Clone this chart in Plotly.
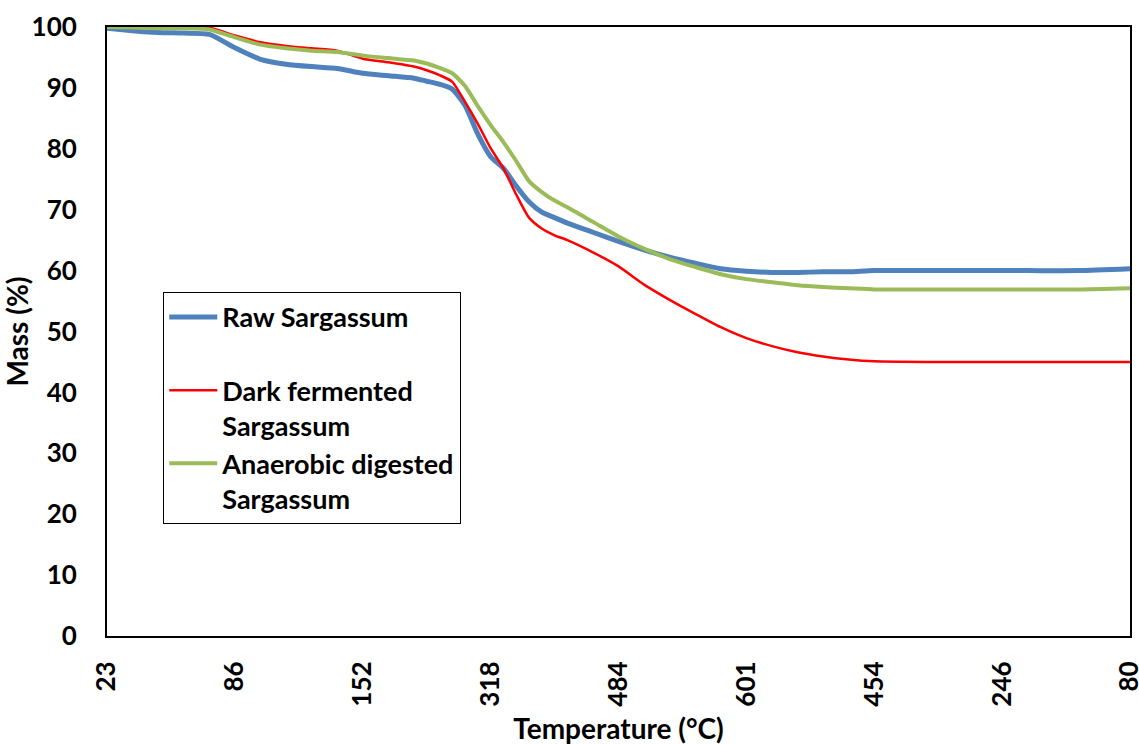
import plotly.graph_objects as go

# Sample index along the recorded run (category axis); tick labels are temperatures
sample_idx = [0, 2, 4, 6, 8, 10, 12, 14, 16, 18, 20, 22, 24, 25, 26, 27, 28, 29, 30,
              31, 32, 33, 34, 35, 36, 38, 40, 42, 44, 46, 48, 50, 52, 54, 56, 58, 60,
              64, 68, 72, 76, 80]

raw_sargassum = [99.8, 99.4, 99.1, 99.0, 98.8, 96.6, 94.7, 93.9, 93.5, 93.2, 92.4, 92.0,
                 91.6, 91.1, 90.6, 89.8, 87.1, 82.4, 78.7, 76.8, 73.9, 71.3, 69.6, 68.7,
                 67.8, 66.3, 64.8, 63.4, 62.2, 61.2, 60.3, 59.9, 59.7, 59.7, 59.8, 59.8,
                 60.0, 60.0, 60.0, 60.0, 60.0, 60.3]

dark_fermented = [100.0, 100.0, 100.0, 100.0, 99.9, 98.6, 97.5, 96.9, 96.5, 96.1, 94.8,
                  94.2, 93.5, 92.9, 92.1, 91.0, 87.7, 84.1, 80.1, 76.8, 72.5, 68.7, 66.9,
                  65.8, 65.0, 63.0, 60.7, 57.7, 55.2, 52.9, 50.7, 48.9, 47.6, 46.6, 45.9,
                  45.4, 45.1, 45.0, 45.0, 45.0, 45.0, 45.0]

anaerobic_digested = [100.0, 99.9, 99.8, 99.8, 99.6, 98.3, 97.1, 96.5, 96.1, 95.9, 95.3,
                      94.9, 94.5, 94.0, 93.3, 92.4, 90.3, 87.0, 83.9, 81.1, 78.0, 74.7,
                      72.9, 71.5, 70.4, 68.0, 65.6, 63.6, 61.9, 60.6, 59.4, 58.6, 58.1,
                      57.6, 57.3, 57.1, 56.9, 56.9, 56.9, 56.9, 56.9, 57.1]

tick_positions = [0, 10, 20, 30, 40, 50, 60, 70, 80]
tick_labels = ["23", "86", "152", "318", "484", "601", "454", "246", "80"]
y_ticks = [0, 10, 20, 30, 40, 50, 60, 70, 80, 90, 100]

FONT = "Lato"
TICK_SIZE = 26
TEXT_SIZE = 28
LEGEND_SIZE = 27

fig = go.Figure()
fig.add_trace(go.Scatter(x=sample_idx, y=raw_sargassum, mode="lines",
                         name="Raw Sargassum<br> ",
                         line=dict(color="#4F81BD", width=5, shape="spline", smoothing=0.6)))
fig.add_trace(go.Scatter(x=sample_idx, y=dark_fermented, mode="lines",
                         name="Dark fermented<br>Sargassum",
                         line=dict(color="#FF0000", width=2.5, shape="spline", smoothing=0.6)))
fig.add_trace(go.Scatter(x=sample_idx, y=anaerobic_digested, mode="lines",
                         name="Anaerobic digested<br>Sargassum",
                         line=dict(color="#9BBB59", width=4, shape="spline", smoothing=0.6)))

fig.update_layout(
    width=1139, height=745,
    margin=dict(l=107, r=9, t=27, b=109),
    paper_bgcolor="white", plot_bgcolor="white",
    font=dict(family=FONT, size=TICK_SIZE, color="black"),
    showlegend=True,
    legend=dict(x=0.055, y=0.565, xanchor="left", yanchor="top",
                bgcolor="white", bordercolor="black", borderwidth=1,
                font=dict(family=FONT, size=LEGEND_SIZE, color="black", weight="bold"),
                valign="top", tracegroupgap=0, itemwidth=48),
    xaxis=dict(range=[0, 80], tickmode="array", tickvals=tick_positions,
               ticktext=tick_labels, tickangle=-90, showgrid=False, zeroline=False,
               showline=True, linecolor="black", linewidth=2, mirror=True,
               ticks="", ticklabelstandoff=13, ticklabeloverflow="allow",
               automargin=False,
               tickfont=dict(family=FONT, size=TICK_SIZE, weight="bold"),
               title=dict(text="Temperature (°C)", standoff=14,
                          font=dict(family=FONT, size=TEXT_SIZE, weight="bold"))),
    yaxis=dict(range=[0, 100], tickmode="array", tickvals=y_ticks, showgrid=False,
               zeroline=False, showline=True, linecolor="black", linewidth=2, mirror=True,
               ticks="", ticklabelstandoff=23, automargin=False,
               tickfont=dict(family=FONT, size=TICK_SIZE, weight="bold"),
               title=dict(text="Mass (%)", standoff=0,
                          font=dict(family=FONT, size=TEXT_SIZE, weight="bold"))),
)

fig.write_html("out.html", config={"displayModeBar": False},
               post_script="document.body.style.margin='0';")
